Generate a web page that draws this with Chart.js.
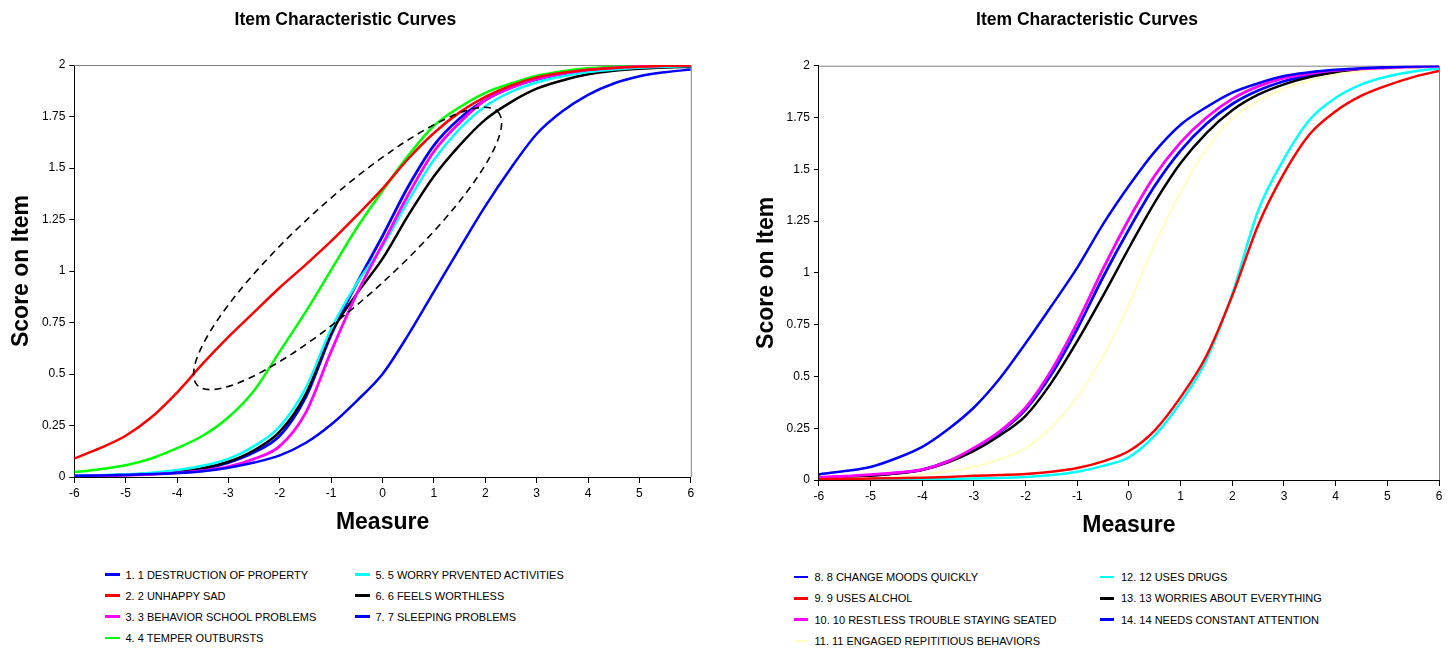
<!DOCTYPE html>
<html>
<head>
<meta charset="utf-8">
<title>Item Characteristic Curves</title>
<script src="https://cdn.jsdelivr.net/npm/chart.js@4.4.1/dist/chart.umd.min.js"></script>
<style>
  html, body { margin: 0; padding: 0; background: #fff; }
  body { width: 1449px; height: 648px; position: relative; overflow: hidden;
         font-family: "Liberation Sans", Arial, sans-serif; }
  canvas { position: absolute; top: 0; }
  #leftChart { left: 0; }
  #rightChart { left: 735px; }
  .item { position: absolute; white-space: nowrap; height: 14px; line-height: 14px;
          font-size: 11px; color: #000; }
  .swatch { position: absolute; left: 0; width: 15px; }
  .label { position: absolute; top: 0; }
</style>
</head>
<body>
<canvas id="leftChart" width="700" height="550"></canvas>
<canvas id="rightChart" width="714" height="550"></canvas>
<div id="leftLegend"></div>
<div id="rightLegend"></div>
<script>
// Person measure (logits) at which each expected item score is listed
const measure = [-6, -5.5, -5, -4.5, -4, -3.5, -3, -2.5, -2, -1.5, -1, -0.5, 0,
                 0.5, 1, 1.5, 2, 2.5, 3, 3.5, 4, 4.5, 5, 5.5, 6];

// Axis tick labels
const measureTicks = [-6, -5, -4, -3, -2, -1, 0, 1, 2, 3, 4, 5, 6];
const scoreTicks = [0, 0.25, 0.5, 0.75, 1, 1.25, 1.5, 1.75, 2];

// Expected score on each item
const item1  = [0.005, 0.007, 0.010, 0.014, 0.019, 0.028, 0.045, 0.070, 0.105, 0.165, 0.255, 0.370, 0.500,
                0.690, 0.900, 1.110, 1.315, 1.500, 1.665, 1.775, 1.855, 1.910, 1.945, 1.965, 1.978];
const item2  = [0.090, 0.140, 0.200, 0.290, 0.410, 0.550, 0.680, 0.800, 0.920, 1.030, 1.145, 1.270, 1.400,
                1.545, 1.670, 1.770, 1.845, 1.900, 1.940, 1.962, 1.977, 1.986, 1.992, 1.996, 1.998];
const item3  = [0.004, 0.006, 0.009, 0.013, 0.020, 0.031, 0.050, 0.088, 0.150, 0.310, 0.610, 0.890, 1.130,
                1.370, 1.580, 1.720, 1.830, 1.890, 1.932, 1.958, 1.976, 1.986, 1.993, 1.997, 1.999];
const item4  = [0.024, 0.038, 0.057, 0.090, 0.140, 0.200, 0.290, 0.420, 0.610, 0.800, 1.005, 1.210, 1.390,
                1.560, 1.705, 1.795, 1.865, 1.910, 1.948, 1.970, 1.984, 1.991, 1.995, 1.998, 2.000];
const item5  = [0.006, 0.009, 0.013, 0.021, 0.034, 0.055, 0.088, 0.150, 0.245, 0.430, 0.720, 0.940, 1.120,
                1.340, 1.540, 1.690, 1.800, 1.870, 1.915, 1.945, 1.966, 1.978, 1.987, 1.992, 1.995];
const item6  = [0.005, 0.007, 0.011, 0.017, 0.026, 0.043, 0.074, 0.130, 0.220, 0.400, 0.700, 0.890, 1.060,
                1.270, 1.460, 1.610, 1.735, 1.820, 1.885, 1.925, 1.955, 1.972, 1.982, 1.988, 1.992];
const item7  = [0.005, 0.007, 0.010, 0.015, 0.023, 0.040, 0.070, 0.120, 0.200, 0.385, 0.690, 0.940, 1.170,
                1.410, 1.610, 1.740, 1.830, 1.890, 1.930, 1.956, 1.974, 1.984, 1.991, 1.995, 1.997];

const item8  = [0.027, 0.043, 0.063, 0.105, 0.160, 0.245, 0.350, 0.490, 0.660, 0.840, 1.025, 1.235, 1.420,
                1.585, 1.715, 1.800, 1.870, 1.915, 1.950, 1.968, 1.980, 1.988, 1.993, 1.996, 1.998];
const item9  = [0.004, 0.005, 0.007, 0.009, 0.011, 0.015, 0.020, 0.024, 0.029, 0.040, 0.058, 0.090, 0.140,
                0.240, 0.400, 0.600, 0.890, 1.230, 1.480, 1.670, 1.780, 1.855, 1.905, 1.945, 1.975];
const item10 = [0.013, 0.018, 0.026, 0.035, 0.050, 0.090, 0.155, 0.235, 0.350, 0.530, 0.760, 1.020, 1.260,
                1.470, 1.630, 1.750, 1.840, 1.900, 1.940, 1.962, 1.977, 1.985, 1.990, 1.995, 1.997];
const item11 = [0.004, 0.006, 0.010, 0.016, 0.026, 0.042, 0.063, 0.100, 0.155, 0.255, 0.400, 0.600, 0.850,
                1.140, 1.390, 1.600, 1.745, 1.830, 1.890, 1.930, 1.958, 1.974, 1.984, 1.990, 1.995];
const item12 = [0.001, 0.001, 0.002, 0.003, 0.004, 0.005, 0.007, 0.010, 0.015, 0.024, 0.040, 0.068, 0.110,
                0.215, 0.375, 0.580, 0.900, 1.300, 1.550, 1.740, 1.845, 1.910, 1.948, 1.972, 1.987];
const item13 = [0.008, 0.013, 0.020, 0.031, 0.048, 0.085, 0.140, 0.215, 0.310, 0.470, 0.670, 0.890, 1.120,
                1.340, 1.530, 1.675, 1.785, 1.860, 1.910, 1.945, 1.967, 1.980, 1.988, 1.993, 1.996];
const item14 = [0.010, 0.015, 0.022, 0.033, 0.050, 0.090, 0.150, 0.230, 0.340, 0.510, 0.730, 0.980, 1.210,
                1.420, 1.590, 1.720, 1.815, 1.880, 1.925, 1.955, 1.972, 1.984, 1.990, 1.995, 1.997];

// Item names
const leftItems = [
  '1. 1 DESTRUCTION OF PROPERTY', '2. 2 UNHAPPY SAD', '3. 3 BEHAVIOR SCHOOL PROBLEMS',
  '4. 4 TEMPER OUTBURSTS', '5. 5 WORRY PRVENTED ACTIVITIES', '6. 6 FEELS WORTHLESS',
  '7. 7 SLEEPING PROBLEMS'
];
const rightItems = [
  '8. 8 CHANGE MOODS QUICKLY', '9. 9 USES ALCHOL', '10. 10 RESTLESS TROUBLE STAYING SEATED',
  '11. 11 ENGAGED REPITITIOUS BEHAVIORS', '12. 12 USES DRUGS', '13. 13 WORRIES ABOUT EVERYTHING',
  '14. 14 NEEDS CONSTANT ATTENTION'
];

// Ends of the dashed oval drawn round the crossing curves (measure, score)
const ovalEnds = [[-3.61, 0.447], [2.25, 1.772]];

// ---- styling ----
const FONT = '"Liberation Sans", Arial, sans-serif';
const leftColors  = ['#0000FF', '#FF0000', '#FF00FF', '#00FF00', '#00FFFF', '#000000', '#0000FF'];
const leftWidths  = [2.5, 2.5, 2.8, 2.5, 2.5, 2.5, 2.8];
const rightColors = ['#0000FF', '#FF0000', '#FF00FF', '#FFFFC0', '#00FFFF', '#000000', '#0000FF'];
const rightWidths = [2.5, 2.5, 2.8, 2, 2.5, 2.5, 2.8];

// Gray top and right edges of the plot frame
const framePlugin = {
  id: 'frame',
  beforeDatasetsDraw(chart) {
    const { ctx, chartArea: a } = chart;
    ctx.save();
    ctx.strokeStyle = '#808080';
    ctx.lineWidth = 1;
    ctx.beginPath();
    ctx.moveTo(a.left, a.top + 0.5);
    ctx.lineTo(a.right + 0.5, a.top + 0.5);
    ctx.lineTo(a.right + 0.5, a.bottom);
    ctx.stroke();
    ctx.restore();
  }
};

// Dashed oval annotation
const ovalPlugin = {
  id: 'oval',
  afterDatasetsDraw(chart) {
    const { ctx, scales: { x, y } } = chart;
    const x1 = x.getPixelForValue(ovalEnds[0][0]), y1 = y.getPixelForValue(ovalEnds[0][1]);
    const x2 = x.getPixelForValue(ovalEnds[1][0]), y2 = y.getPixelForValue(ovalEnds[1][1]);
    const semiMajor = Math.hypot(x2 - x1, y2 - y1) / 2;
    ctx.save();
    ctx.strokeStyle = '#000';
    ctx.lineWidth = 1.6;
    ctx.setLineDash([7, 5]);
    ctx.beginPath();
    ctx.ellipse((x1 + x2) / 2, (y1 + y2) / 2, semiMajor, semiMajor * 0.24,
                Math.atan2(y2 - y1, x2 - x1), 0, Math.PI * 2);
    ctx.stroke();
    ctx.restore();
  }
};

function makeChart(id, series, labels, colors, widths, cfg, extraPlugins) {
  return new Chart(document.getElementById(id), {
    type: 'line',
    data: {
      datasets: series.map((s, i) => ({
        label: labels[i],
        data: measure.map((m, j) => ({ x: m, y: s[j] })),
        borderColor: colors[i],
        backgroundColor: colors[i],
        borderWidth: widths[i],
        pointRadius: 0,
        cubicInterpolationMode: 'monotone',
        fill: false
      }))
    },
    options: {
      responsive: false,
      animation: false,
      events: [],
      layout: { padding: { left: 0, right: cfg.padRight, top: 0, bottom: 0 } },
      plugins: {
        legend: { display: false },
        tooltip: { enabled: false },
        title: {
          display: true,
          text: 'Item Characteristic Curves',
          color: '#000',
          font: { family: FONT, size: 17.5, weight: 'bold', lineHeight: 1.2 },
          padding: { top: cfg.titleTop, bottom: cfg.titleBottom }
        }
      },
      scales: {
        x: {
          type: 'linear', min: -6, max: 6,
          afterBuildTicks: s => { s.ticks = measureTicks.map(v => ({ value: v })); },
          afterFit: s => { s.height = cfg.xHeight; },
          ticks: { color: '#000', font: { family: FONT, size: 12 }, padding: 3, maxRotation: 0,
                   callback: v => String(v) },
          grid: { drawOnChartArea: false, drawTicks: true, tickLength: 6, color: '#000' },
          border: { color: '#000', width: 1 },
          title: { display: true, text: 'Measure', color: '#000',
                   font: { family: FONT, size: 23, weight: 'bold', lineHeight: 1.2 },
                   padding: { top: 0, bottom: cfg.xTitlePad } }
        },
        y: {
          type: 'linear', min: 0, max: 2,
          afterBuildTicks: s => { s.ticks = scoreTicks.map(v => ({ value: v })); },
          afterFit: s => { s.width = cfg.yWidth; },
          ticks: { color: '#000', font: { family: FONT, size: 12 }, padding: 4,
                   callback: v => String(v) },
          grid: { drawOnChartArea: false, drawTicks: true, tickLength: 5, color: '#000' },
          border: { color: '#000', width: 1 },
          title: { display: true, text: 'Score on Item', color: '#000',
                   font: { family: FONT, size: 23, weight: 'bold', lineHeight: 1.2 },
                   padding: { top: cfg.yTitlePad, bottom: 0 } }
        }
      }
    },
    plugins: [framePlugin].concat(extraPlugins)
  });
}

makeChart('leftChart', [item1, item2, item3, item4, item5, item6, item7], leftItems,
  leftColors, leftWidths,
  { padRight: 9.2, titleTop: 9.8, titleBottom: 34.2, xHeight: 73, xTitlePad: 13.2,
    yWidth: 74.3, yTitlePad: 7.5 },
  [ovalPlugin]);

makeChart('rightChart', [item8, item9, item10, item11, item12, item13, item14], rightItems,
  rightColors, rightWidths,
  { padRight: 10, titleTop: 9.8, titleBottom: 34.9, xHeight: 70, xTitlePad: 10.2,
    yWidth: 83.9, yTitlePad: 17.5 },
  []);

// Two-column legends, filled column by column
function buildLegend(hostId, labels, colors, widths, pos) {
  const host = document.getElementById(hostId);
  labels.forEach((text, i) => {
    const col = Math.floor(i / 4), row = i % 4;
    const item = document.createElement('div');
    item.className = 'item';
    item.style.left = pos.x[col] + 'px';
    item.style.top = (pos.y0 + row * pos.dy - 7) + 'px';
    const sw = document.createElement('div');
    sw.className = 'swatch';
    sw.style.width = pos.swatch + 'px';
    sw.style.top = (7 - widths[i] / 2) + 'px';
    sw.style.height = widths[i] + 'px';
    sw.style.background = colors[i];
    const lab = document.createElement('span');
    lab.className = 'label';
    lab.style.left = pos.textGap + 'px';
    lab.textContent = text;
    item.appendChild(sw);
    item.appendChild(lab);
    host.appendChild(item);
  });
}

buildLegend('leftLegend', leftItems, leftColors, leftWidths,
  { x: [105, 355], y0: 574.5, dy: 21.1, swatch: 15, textGap: 20.5 });
buildLegend('rightLegend', rightItems, rightColors, rightWidths,
  { x: [793.5, 1100], y0: 577, dy: 21.3, swatch: 14, textGap: 21 });
</script>
</body>
</html>
